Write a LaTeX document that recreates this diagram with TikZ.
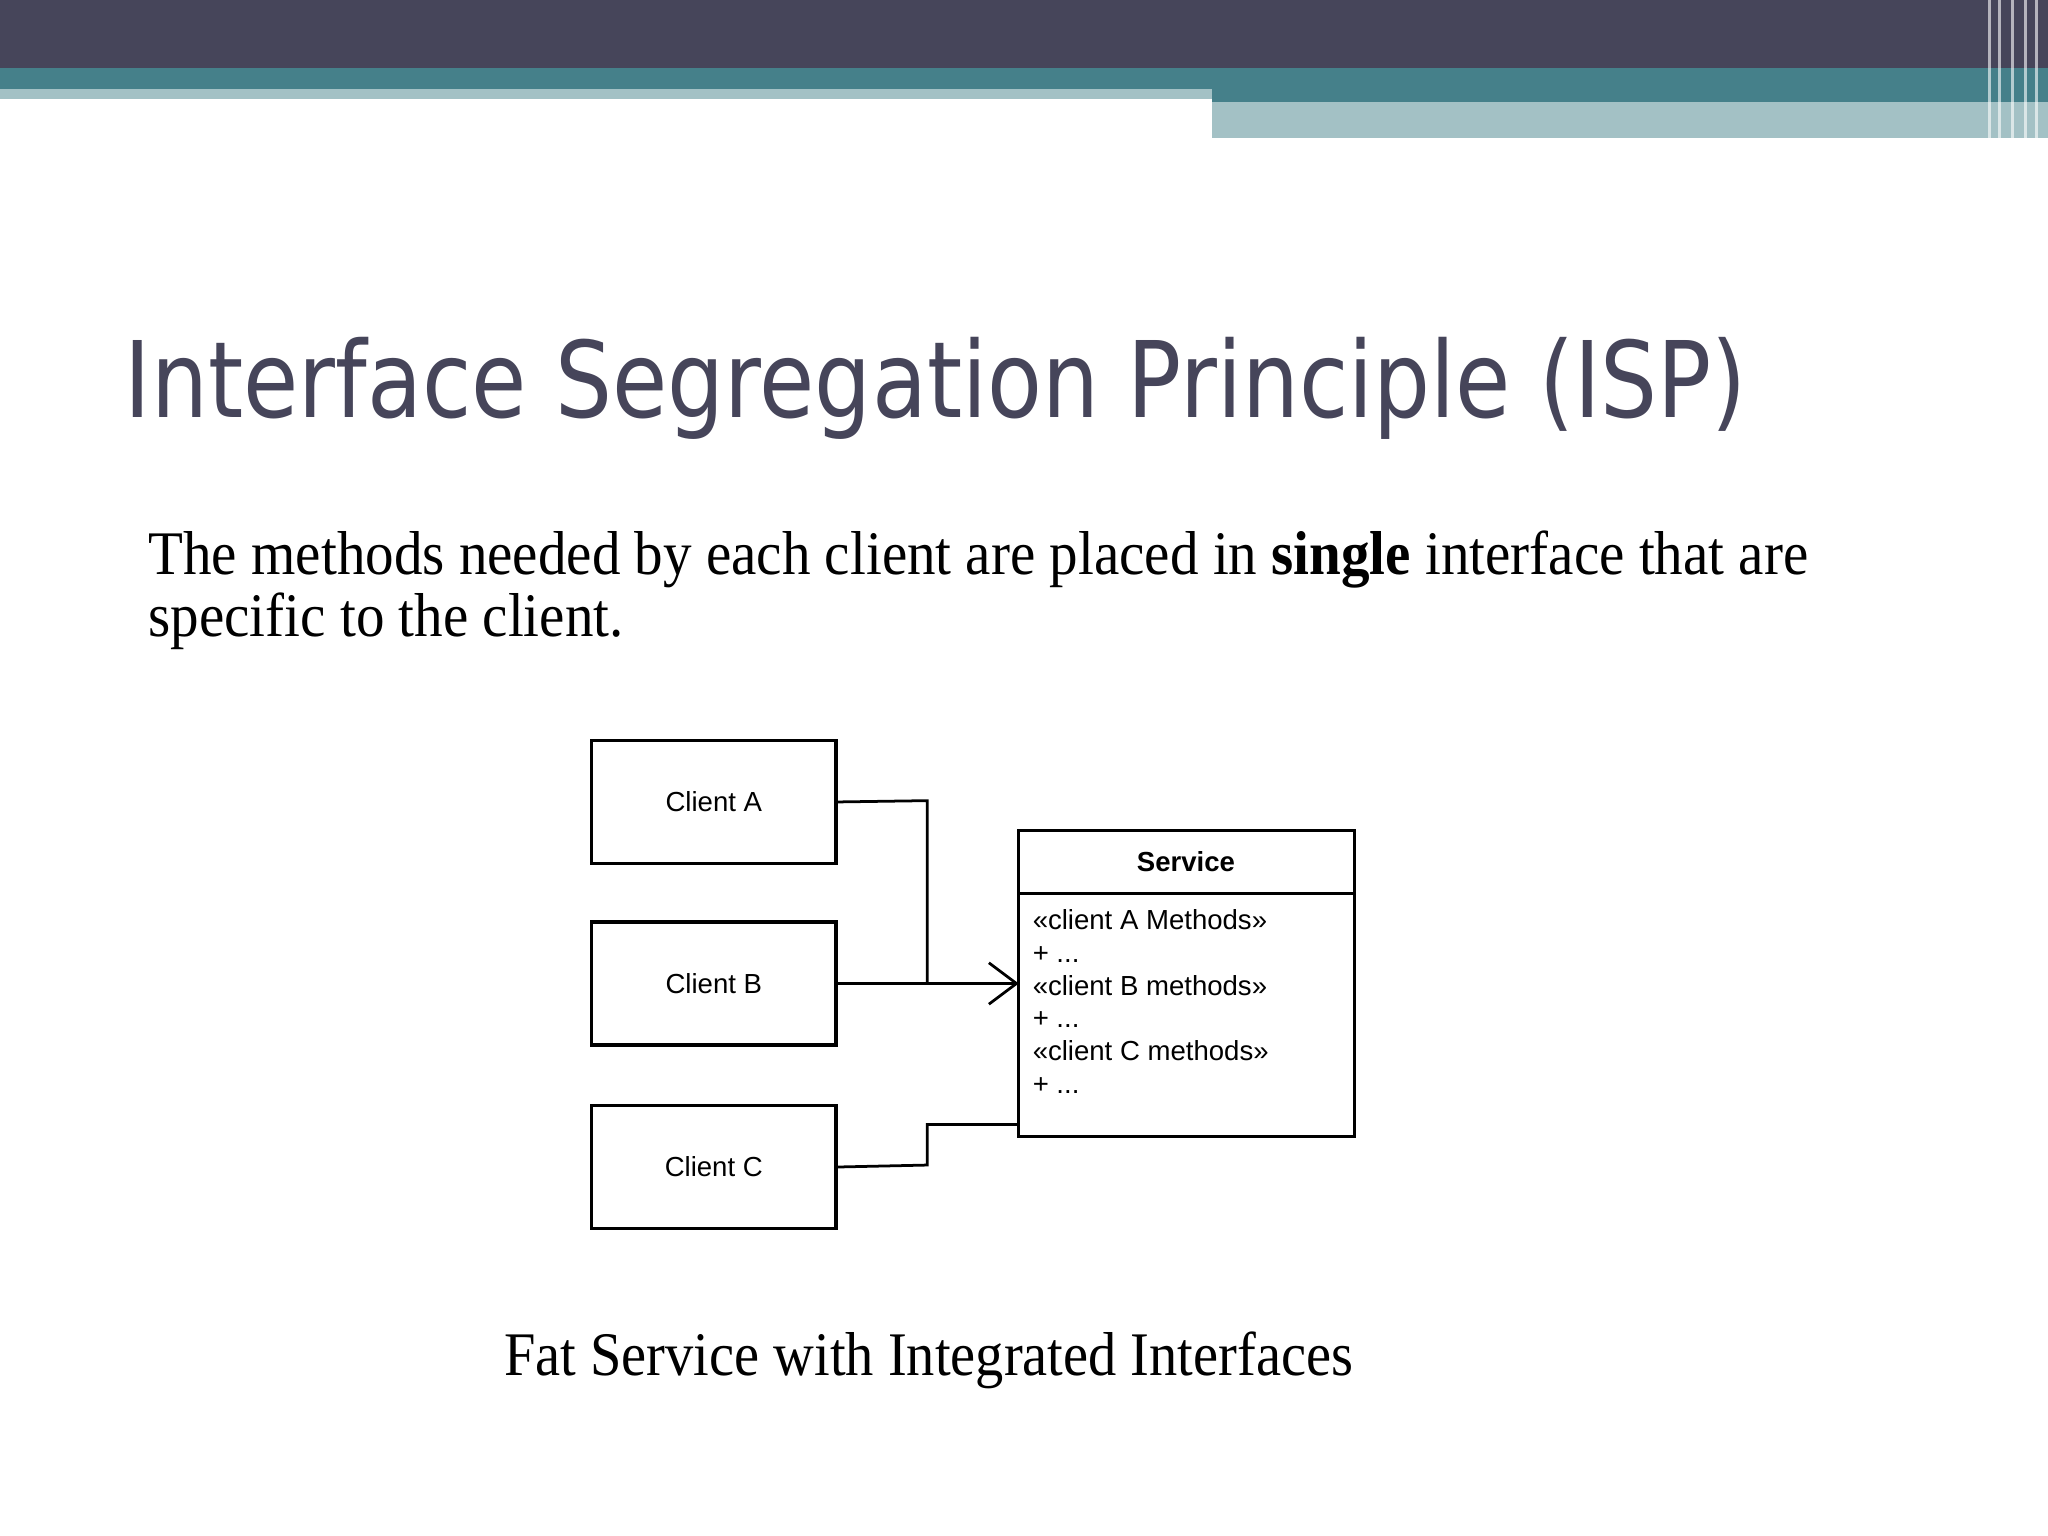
\documentclass[tikz,border=0pt]{standalone}
\usepackage{fontspec}
\setmainfont{Liberation Serif}
\newfontfamily\titlefont{DejaVu Sans}
\newfontfamily\umlfont{Liberation Sans}
\usetikzlibrary{arrows.meta}
\definecolor{dark}{HTML}{46455A}
\definecolor{teal}{HTML}{45808A}
\definecolor{light}{HTML}{A3C1C5}
\tikzset{box/.style={draw,line width=0.7pt,minimum width=1.87cm,minimum height=0.94cm,font=\umlfont\fontsize{6}{7}\selectfont},
conn/.style={line width=0.6pt}}
\begin{document}
\begin{tikzpicture}[x=0.01cm,y=-0.01cm]
\useasboundingbox (0,0) rectangle (1568,1176);
\fill[dark] (0,0) rectangle (1568,52);
\fill[teal] (0,52) rectangle (1568,68);
\fill[light] (0,68) rectangle (928,76);
\fill[teal] (928,68) rectangle (1568,78);
\fill[light] (928,78) rectangle (1568,106);
\foreach \x in {1522,1530,1540,1550,1558}{\fill[white,opacity=0.6] (\x,0) rectangle (\x+2,106);}
\node[anchor=base west,inner sep=0,text=dark,font=\titlefont\fontsize{23}{28}\selectfont] (title) at (95,320) {\scalebox{0.85}[1]{Interface Segregation Principle (ISP)}};
\node[anchor=base west,inner sep=0,font=\fontsize{13.5}{13.4}\selectfont] (body1) at (113,440) {\scalebox{0.92}[1]{The methods needed by each client are placed in \textbf{single} interface that are}};
\node[anchor=base west,inner sep=0,font=\fontsize{13.5}{13.4}\selectfont] (body2) at (113,487) {\scalebox{0.92}[1]{specific to the client.}};
\node[box] (A) at (546.5,614) {Client A};
\node[box] (B) at (546.5,753) {Client B};
\node[box] (C) at (546.5,893.5) {Client C};
\draw[line width=0.7pt] (780,636) rectangle (1037,870);
\draw[line width=0.7pt] (780,684) -- (1037,684);
\node[font=\umlfont\bfseries\fontsize{6}{7}\selectfont] (svc) at (908,660) {Service};
\coordinate (S) at (780,753);
\coordinate (Sc) at (780,861);
\node[anchor=north west,inner sep=0,align=left,font=\umlfont\fontsize{6}{7.1}\selectfont] (m) at (790,696) {«client A Methods»\\+ ...\\«client B methods»\\+ ...\\«client C methods»\\+ ...};
\draw[conn] (A.east) -- (710,613) -- (710,753);
\draw[conn,-{Straight Barb[length=6pt,width=9pt]}] (B.east) -- (S);
\draw[conn] (C.east) -- (710,892) -- (710,861) -- (Sc);
\node[anchor=base,inner sep=0,font=\fontsize{13.5}{14}\selectfont] (cap) at (711,1053) {\scalebox{0.91}[1]{Fat Service with Integrated Interfaces}};
\end{tikzpicture}
\end{document}
